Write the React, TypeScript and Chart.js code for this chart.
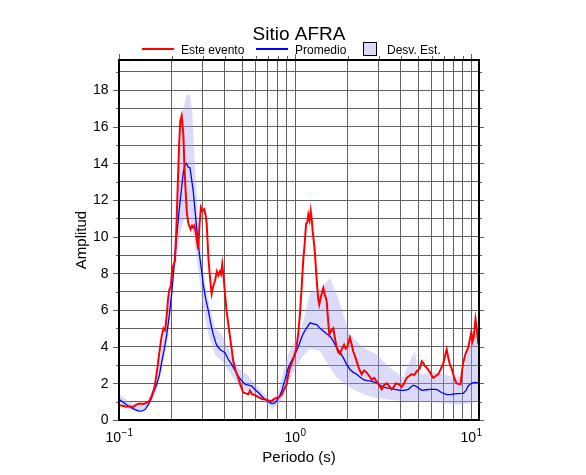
import { useEffect, useRef } from 'react';
import { Chart, registerables } from 'chart.js';

Chart.register(...registerables);

// ---- data ----
const eventPeriods = [
  0.1, 0.105, 0.11, 0.115, 0.12, 0.126, 0.132, 0.138, 0.144, 0.149, 0.153, 0.157, 0.16, 0.165, 0.171, 0.175, 0.179, 0.183,
  0.187, 0.19, 0.193, 0.197, 0.201, 0.205, 0.208, 0.212, 0.216, 0.22, 0.223, 0.227, 0.232, 0.235, 0.239, 0.243, 0.248,
  0.255, 0.26, 0.264, 0.268, 0.272, 0.277, 0.282, 0.286, 0.292, 0.298, 0.305, 0.31, 0.315, 0.322, 0.328, 0.336, 0.343,
  0.351, 0.36, 0.367, 0.374, 0.38, 0.386, 0.393, 0.4, 0.408, 0.418, 0.432, 0.446, 0.46, 0.476, 0.49, 0.508, 0.525, 0.543,
  0.555, 0.57, 0.593, 0.62, 0.65, 0.676, 0.71, 0.738, 0.76, 0.787, 0.81, 0.84, 0.87, 0.897, 0.916, 0.94, 0.958, 0.99,
  1.022, 1.045, 1.067, 1.09, 1.115, 1.135, 1.155, 1.175, 1.19, 1.21, 1.228, 1.245, 1.26, 1.28, 1.299, 1.32, 1.339, 1.355,
  1.374, 1.41, 1.448, 1.48, 1.513, 1.54, 1.566, 1.61, 1.65, 1.69, 1.725, 1.76, 1.8, 1.85, 1.9, 1.94, 1.98, 2.05, 2.1,
  2.14, 2.19, 2.24, 2.31, 2.39, 2.47, 2.55, 2.64, 2.73, 2.82, 2.91, 3.0, 3.11, 3.2, 3.32, 3.43, 3.54, 3.64, 3.74, 3.9,
  4.04, 4.17, 4.31, 4.45, 4.6, 4.76, 4.92, 5.1, 5.25, 5.36, 5.47, 5.66, 5.85, 6.0, 6.11, 6.3, 6.52, 6.75, 6.96, 7.12,
  7.27, 7.43, 7.59, 7.76, 7.93, 8.1, 8.28, 8.5, 8.72, 8.87, 9.02, 9.3, 9.63, 9.85, 10.04, 10.2, 10.35, 10.6, 10.8,
  10.95, 11.1,
];
const eventAmp = [
  0.8, 0.78, 0.72, 0.75, 0.7, 0.85, 0.9, 0.88, 0.95, 1.05, 1.3, 1.6, 1.9, 2.8, 3.95, 4.6, 5.0, 4.9,
  5.8, 6.6, 7.1, 7.3, 8.3, 8.5, 8.7, 10.5, 13.0, 15.2, 16.3, 16.6, 15.6, 14.0, 12.5, 11.3, 10.7,
  10.4, 10.6, 10.5, 10.6, 10.3, 9.8, 9.3, 10.5, 11.6, 11.4, 11.5, 11.2, 10.7, 8.85, 7.9, 6.9, 7.3,
  7.6, 8.1, 7.9, 8.1, 7.95, 8.5, 7.8, 6.9, 6.0, 5.2, 4.2, 3.2, 2.7, 2.3, 1.9, 1.5, 1.45, 1.4,
  1.6, 1.4, 1.36, 1.25, 1.15, 1.13, 1.05, 1.04, 1.15, 1.2, 1.25, 1.4, 1.7, 1.95, 2.5, 2.9, 3.1, 3.5,
  4.0, 4.8, 5.8, 7.2, 8.8, 9.6, 10.7, 10.8, 11.2, 10.9, 11.4, 10.9, 10.3, 9.7, 9.05, 8.0, 7.2, 6.6,
  6.3, 6.8, 7.2, 6.8, 6.5, 5.5, 4.67, 4.9, 5.0, 4.4, 3.95, 3.7, 3.6, 3.9, 4.1, 3.9, 4.0, 4.5, 4.1,
  3.75, 3.5, 3.2, 2.8, 2.5, 2.7, 2.6, 2.4, 2.2, 2.3, 2.1, 1.9, 1.67, 1.9, 2.0, 1.85, 1.67, 1.8, 2.0, 1.95,
  1.8, 2.0, 2.3, 2.4, 2.5, 2.45, 2.67, 2.8, 3.2, 3.1, 2.95, 2.8, 2.6, 2.4, 2.3, 2.4, 2.5, 2.8, 3.1, 3.5,
  3.85, 3.4, 3.0, 2.8, 2.5, 2.2, 2.0, 1.97, 1.95, 2.6, 3.1, 3.6, 3.95, 4.4, 4.8, 4.3, 4.5, 5.5, 4.9,
  4.3, 4.4,
];

const meanPeriods = [
  0.1, 0.106, 0.113, 0.12, 0.129, 0.135, 0.141, 0.147, 0.153, 0.158, 0.164, 0.17, 0.175, 0.181, 0.187, 0.193, 0.199,
  0.206, 0.213, 0.22, 0.227, 0.232, 0.237, 0.242, 0.247, 0.253, 0.258, 0.264, 0.27, 0.276, 0.282, 0.288, 0.295, 0.301,
  0.311, 0.322, 0.333, 0.343, 0.358, 0.375, 0.388, 0.4, 0.418, 0.437, 0.456, 0.476, 0.497, 0.52, 0.545, 0.568, 0.593,
  0.619, 0.647, 0.676, 0.706, 0.738, 0.762, 0.787, 0.813, 0.84, 0.878, 0.916, 0.958, 1.0, 1.045, 1.09, 1.127, 1.165,
  1.217, 1.27, 1.328, 1.387, 1.448, 1.51, 1.58, 1.65, 1.725, 1.8, 1.88, 1.96, 2.05, 2.14, 2.24, 2.34, 2.45, 2.56, 2.67,
  2.79, 2.91, 3.04, 3.18, 3.32, 3.46, 3.7, 3.95, 4.17, 4.41, 4.55, 4.7, 4.86, 5.02, 5.25, 5.55, 5.85, 6.38, 6.8, 7.27,
  7.75, 8.28, 9.02, 9.35, 9.63, 10.04, 10.5, 11.1,
];
const meanAmp = [
  1.13, 0.95, 0.76, 0.62, 0.5, 0.48, 0.58, 0.85, 1.2, 1.6, 1.95, 2.5, 3.2, 3.9, 4.7, 5.7, 6.85,
  8.5, 10.1, 11.5, 12.7, 13.5, 13.95, 14.0, 13.8, 13.75, 13.2, 12.5, 11.5, 10.5, 9.6, 8.85, 8.1, 7.4,
  6.6, 5.95, 5.2, 4.67, 4.1, 3.85, 3.75, 3.67, 3.3, 3.03, 2.7, 2.4, 2.15, 1.95, 1.9, 1.85, 1.65,
  1.5, 1.3, 1.13, 1.0, 0.9, 0.92, 1.04, 1.25, 1.58, 2.2, 2.85, 3.25, 3.58, 4.0, 4.5, 4.8, 5.03,
  5.3, 5.25, 5.2, 5.0, 4.85, 4.7, 4.58, 4.3, 3.95, 3.7, 3.4, 3.05, 2.77, 2.6, 2.5, 2.35, 2.2, 2.15, 2.13,
  2.08, 2.03, 1.9, 1.8, 1.75, 1.73, 1.67, 1.62, 1.62, 1.67, 1.8, 1.9, 1.85, 1.75, 1.62, 1.65, 1.67, 1.67, 1.5, 1.38,
  1.4, 1.44, 1.45, 1.6, 1.86, 2.0, 2.05, 2.03,
];

const bandPeriods = [
  0.1, 0.113, 0.129, 0.147, 0.153, 0.16, 0.175, 0.191, 0.204, 0.213, 0.222, 0.232, 0.242, 0.253, 0.261, 0.27, 0.282,
  0.298, 0.322, 0.351, 0.383, 0.418, 0.476, 0.543, 0.619, 0.705, 0.738, 0.804, 0.84, 0.916, 0.958, 1.044, 1.09, 1.14,
  1.217, 1.387, 1.58, 1.725, 1.88, 2.05, 2.45, 2.91, 3.46, 4.12, 4.5, 4.8, 5.0, 6.38, 8.28, 9.02, 9.45, 10.3, 11.1,
];
const bandUpper = [
  1.4, 1.04, 0.76, 1.04, 1.3, 1.76, 3.95, 6.1, 8.7, 11.6, 14.85, 17.0, 17.7, 17.8, 16.7, 13.95, 10.85,
  8.3, 6.5, 5.03, 4.67, 3.95, 2.85, 2.4, 1.76, 1.2, 1.1, 1.5, 2.3, 3.58, 4.0, 4.67, 5.1, 5.77,
  6.95, 7.1, 7.76, 6.86, 5.77, 4.67, 3.95, 3.58, 2.85, 2.3, 3.22, 3.76, 2.5, 2.6, 2.3, 2.5, 3.4, 4.6, 4.9,
];
const bandLower = [
  0.95, 0.6, 0.4, 0.75, 1.04, 1.3, 2.67, 4.67, 7.6, 9.0, 10.2, 10.8, 11.2, 11.0, 10.5, 9.5, 8.2,
  6.3, 4.67, 3.58, 3.2, 2.7, 1.9, 1.5, 1.3, 0.8, 0.58, 0.85, 1.04, 2.0, 2.5, 3.0, 3.4, 3.6,
  3.9, 3.76, 2.85, 2.3, 2.0, 1.76, 1.4, 1.2, 1.1, 1.04, 1.0, 1.0, 1.0, 0.95, 0.85, 0.85, 0.9, 0.95, 1.04,
];

const xGridValues = [0.1, 0.2, 0.3, 0.4, 0.5, 0.6, 0.7, 0.8, 0.9, 1, 2, 3, 4, 5, 6, 7, 8, 9, 10];
const xTickValues = [0.1, 1, 10];
const xTickExponents = ['\u22121', '0', '1'];
const yGridValues = [0, 1, 2, 3, 4, 5, 6, 7, 8, 9, 10, 11, 12, 13, 14, 15, 16, 17, 18, 19];
const yTickValues = [0, 2, 4, 6, 8, 10, 12, 14, 16, 18];

const TITLE = 'Sitio AFRA';
const X_TITLE = 'Periodo (s)';
const Y_TITLE = 'Amplitud';
const LEGEND = ['Este evento', 'Promedio', 'Desv. Est.'];

const FONT = '"Liberation Sans", Arial, Helvetica, sans-serif';
const RED = '#ff0000';
const BLUE = '#0000ff';
const BAND = 'rgba(160,160,240,0.38)';
const GRID = '#616161';

const toXY = (xs: number[], ys: number[]) => xs.map((x, i) => ({ x, y: ys[i] }));

const overlay = {
  id: 'overlay',
  afterDraw(chart: any) {
    const { ctx, chartArea: a, scales } = chart;
    const xs = scales.x;
    const ys = scales.y;
    ctx.save();

    // outside tick marks
    ctx.strokeStyle = GRID;
    ctx.lineWidth = 1;
    ctx.beginPath();
    for (const v of xGridValues) {
      const px = Math.round(xs.getPixelForValue(v)) + 0.5;
      const major = xTickValues.includes(v);
      const len = major ? 6 : 4;
      ctx.moveTo(px, a.top);
      ctx.lineTo(px, a.top - len);
    }
    for (const v of yGridValues) {
      const py = Math.round(ys.getPixelForValue(v)) + 0.5;
      const major = yTickValues.includes(v);
      ctx.moveTo(a.left, py);
      ctx.lineTo(a.left - (major ? 6 : 3), py);
      ctx.moveTo(a.right, py);
      ctx.lineTo(a.right + (major ? 5 : 3), py);
    }
    ctx.stroke();

    // frame
    ctx.strokeStyle = '#000';
    ctx.lineWidth = 2;
    ctx.strokeRect(a.left, a.top, a.right - a.left, a.bottom - a.top);

    ctx.fillStyle = '#000';
    // title
    ctx.font = `19px ${FONT}`;
    ctx.textAlign = 'center';
    ctx.textBaseline = 'alphabetic';
    const cx = (a.left + a.right) / 2;
    ctx.fillText(TITLE, cx, 40);

    // legend
    ctx.font = `12px ${FONT}`;
    ctx.textAlign = 'left';
    ctx.lineWidth = 2;
    ctx.strokeStyle = RED;
    ctx.beginPath();
    ctx.moveTo(142, 49);
    ctx.lineTo(174, 49);
    ctx.stroke();
    ctx.fillText(LEGEND[0], 181, 53.5);
    ctx.strokeStyle = BLUE;
    ctx.beginPath();
    ctx.moveTo(256, 49);
    ctx.lineTo(288, 49);
    ctx.stroke();
    ctx.fillText(LEGEND[1], 295, 53.5);
    ctx.fillStyle = '#dbdbf9';
    ctx.fillRect(363, 42.5, 13, 13);
    ctx.strokeStyle = '#000';
    ctx.lineWidth = 1;
    ctx.strokeRect(363.5, 42.5, 13, 13);
    ctx.fillStyle = '#000';
    ctx.fillText(LEGEND[2], 387, 53.5);

    // y tick labels
    ctx.font = `14px ${FONT}`;
    ctx.textAlign = 'right';
    ctx.textBaseline = 'middle';
    for (const v of yTickValues) {
      ctx.fillText(String(v), 108.5, ys.getPixelForValue(v) + 0.5);
    }

    // x tick labels 10^n
    ctx.textBaseline = 'alphabetic';
    ctx.textAlign = 'left';
    xTickValues.forEach((v, i) => {
      const px = xs.getPixelForValue(v);
      ctx.font = `14px ${FONT}`;
      const wb = ctx.measureText('10').width;
      ctx.font = `10px ${FONT}`;
      const we = ctx.measureText(xTickExponents[i]).width;
      const start = px - (wb + we) / 2;
      ctx.font = `14px ${FONT}`;
      ctx.fillText('10', start, 441.5);
      ctx.font = `10px ${FONT}`;
      ctx.fillText(xTickExponents[i], start + wb + 0.5, 436);
    });

    // axis titles
    ctx.font = `15px ${FONT}`;
    ctx.textAlign = 'center';
    ctx.fillText(X_TITLE, cx, 462);
    ctx.save();
    ctx.translate(86, (a.top + a.bottom) / 2);
    ctx.rotate(-Math.PI / 2);
    ctx.fillText(Y_TITLE, 0, 0);
    ctx.restore();

    ctx.restore();
  },
};

export default function App() {
  const ref = useRef<HTMLCanvasElement | null>(null);

  useEffect(() => {
    if (!ref.current) return;
    const chart = new Chart(ref.current, {
      type: 'line',
      data: {
        datasets: [
          {
            label: LEGEND[0],
            data: toXY(eventPeriods, eventAmp),
            borderColor: RED,
            borderWidth: 2,
            pointRadius: 0,
            fill: false,
            tension: 0,
          },
          {
            label: LEGEND[1],
            data: toXY(meanPeriods, meanAmp),
            borderColor: BLUE,
            borderWidth: 1.3,
            pointRadius: 0,
            fill: false,
            tension: 0,
          },
          {
            label: LEGEND[2],
            data: toXY(bandPeriods, bandUpper),
            borderWidth: 0,
            borderColor: 'rgba(0,0,0,0)',
            backgroundColor: BAND,
            pointRadius: 0,
            fill: '+1',
            tension: 0,
          },
          {
            label: 'lower',
            data: toXY(bandPeriods, bandLower),
            borderWidth: 0,
            borderColor: 'rgba(0,0,0,0)',
            pointRadius: 0,
            fill: false,
            tension: 0,
          },
        ],
      },
      options: {
        responsive: false,
        animation: false,
        devicePixelRatio: 1,
        layout: { padding: { top: 60, right: 107, left: 0, bottom: 0 } },
        plugins: {
          legend: { display: false },
          title: { display: false },
          tooltip: { enabled: false },
        },
        scales: {
          x: {
            type: 'logarithmic',
            min: 0.1,
            max: 11.1,
            position: 'bottom',
            afterBuildTicks: (s: any) => {
              s.ticks = xGridValues.map((v) => ({ value: v }));
            },
            afterFit: (s: any) => {
              s.height = 55;
            },
            ticks: { display: false },
            grid: { color: GRID, lineWidth: 1, drawTicks: false },
            border: { display: false },
          },
          y: {
            type: 'linear',
            min: 0,
            max: 19.64,
            afterBuildTicks: (s: any) => {
              s.ticks = yGridValues.map((v) => ({ value: v }));
            },
            afterFit: (s: any) => {
              s.width = 119;
            },
            ticks: { display: false },
            grid: { color: GRID, lineWidth: 1, drawTicks: false },
            border: { display: false },
          },
        },
      },
      plugins: [overlay],
    });
    return () => chart.destroy();
  }, []);

  return (
    <div style={{ position: 'absolute', left: 0, top: 0, width: 586, height: 475, background: '#fff' }}>
      <canvas ref={ref} width={586} height={475} style={{ display: 'block', width: 586, height: 475 }} />
    </div>
  );
}
